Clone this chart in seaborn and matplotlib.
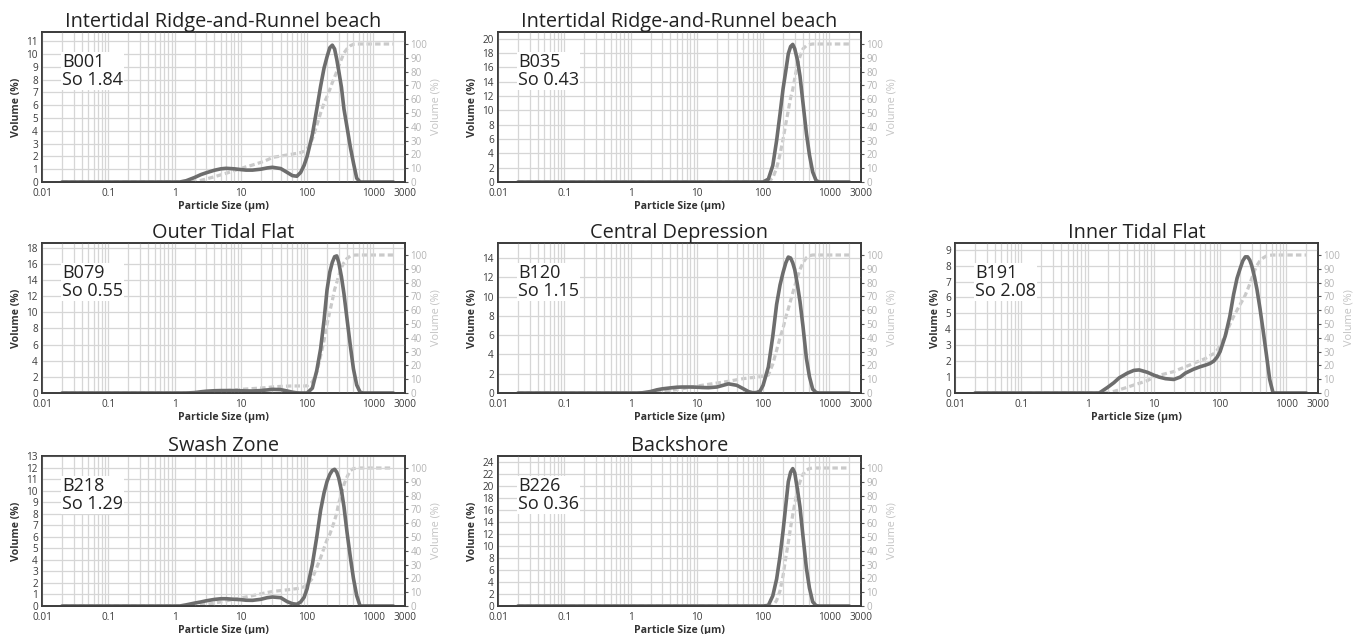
import matplotlib
matplotlib.use("Agg")
import matplotlib.pyplot as plt
from matplotlib.ticker import LogLocator, FixedLocator, NullFormatter, MultipleLocator
import seaborn as sns
import numpy as np

# ---------------- data ----------------
sizes = [0.02, 1, 1.2, 1.5, 2, 2.5, 3, 4, 5, 6, 8, 10, 12, 15, 20, 25, 30, 40, 50, 60,
         70, 80, 90, 100, 120, 140, 160, 180, 200, 220, 240, 260, 280, 300, 330, 360,
         400, 450, 500, 560, 630, 700, 800, 1000, 2000]

b001_vol = [0, 0, 0, 0.1, 0.35, 0.58, 0.72, 0.92, 1.03, 1.07, 1.03, 0.97, 0.93, 0.93, 1.0, 1.1, 1.15, 1.05, 0.75, 0.5,
            0.45, 0.75, 1.3, 2.0, 3.7, 5.7, 7.5, 8.9, 9.8, 10.5, 10.7, 10.4, 9.6, 8.7, 7.4, 5.7,
            4.3, 2.7, 1.5, 0.3, 0, 0, 0, 0, 0]
b001_cum = [0, 0, 0, 0, 0.3, 1.2, 2.2, 3.8, 5.2, 6.3, 8.3, 9.8, 11, 12.3, 14.2, 16, 17.8, 18.8, 19.6, 20.2,
            20.8, 21.3, 22.3, 24, 31, 41, 50, 57, 62, 67, 72, 76, 80, 84, 89, 93.5,
            96.5, 98.8, 99.8, 100, 100, 100, 100, 100, 100]

b035_vol = [0, 0, 0, 0, 0, 0, 0, 0, 0, 0, 0, 0, 0, 0, 0, 0, 0, 0, 0, 0,
            0, 0, 0, 0, 0.4, 2.3, 5.8, 9.5, 13.0, 15.5, 17.9, 18.9, 19.2, 18.6, 17.0, 14.8,
            11.0, 6.8, 3.8, 1.4, 0.2, 0, 0, 0, 0]
b035_cum = [0, 0, 0, 0, 0, 0, 0, 0, 0, 0, 0, 0, 0, 0, 0, 0, 0, 0, 0, 0,
            0, 0, 0, 0, 0, 3, 10, 20, 31, 42, 52, 61, 67, 75, 85, 91,
            96.5, 98.8, 99.6, 100, 100, 100, 100, 100, 100]

b079_vol = [0, 0, 0, 0, 0.05, 0.15, 0.22, 0.28, 0.3, 0.3, 0.3, 0.28, 0.26, 0.25, 0.3, 0.38, 0.45, 0.42, 0.25, 0.1,
            0.02, 0, 0, 0, 0.6, 2.8, 5.5, 9.0, 12.8, 15.0, 16.2, 16.9, 17.0, 16.2, 14.4, 12.3,
            9.2, 5.8, 3.0, 1.0, 0.1, 0, 0, 0, 0]
b079_cum = [0, 0, 0, 0, 0.1, 0.4, 0.7, 1.1, 1.5, 1.8, 2.2, 2.6, 2.9, 3.2, 3.6, 4.0, 4.4, 4.8, 5.0, 5.1,
            5.1, 5.1, 5.1, 5.2, 8, 15, 27, 38, 50, 59, 67, 75, 80, 85, 91, 94.5,
            97.5, 99.3, 99.9, 100, 100, 100, 100, 100, 100]

b120_vol = [0, 0, 0, 0.02, 0.15, 0.33, 0.43, 0.53, 0.6, 0.62, 0.62, 0.6, 0.57, 0.55, 0.62, 0.8, 0.95, 0.8, 0.45, 0.15,
            0.02, 0.05, 0.2, 0.8, 2.7, 5.9, 9.2, 11.2, 12.5, 13.5, 14.1, 14.0, 13.5, 12.8, 11.2, 9.5,
            6.9, 3.6, 1.7, 0.4, 0.05, 0, 0, 0, 0]
b120_cum = [0, 0, 0, 0, 0.2, 0.6, 1.0, 1.8, 2.5, 3.1, 4.2, 5.0, 5.6, 6.3, 7.2, 7.9, 8.5, 9.6, 10.4, 10.9,
            11.2, 11.5, 11.8, 12.1, 13, 21, 31, 40, 47, 55, 61, 67, 72.5, 77.5, 84, 89.5,
            94.5, 98, 99.5, 100, 100, 100, 100, 100, 100]

b191_vol = [0, 0, 0, 0, 0.35, 0.65, 0.95, 1.25, 1.42, 1.45, 1.3, 1.12, 1.0, 0.9, 0.85, 1.0, 1.25, 1.5, 1.65, 1.75,
            1.85, 2.0, 2.25, 2.6, 3.6, 4.8, 6.2, 7.2, 7.8, 8.3, 8.55, 8.55, 8.35, 8.0, 7.3, 6.5,
            5.3, 3.8, 2.4, 0.85, 0, 0, 0, 0, 0]
b191_cum = [0, 0, 0, 0, 0.2, 1.2, 2.3, 4.2, 5.8, 7.0, 9.0, 11.5, 12.8, 14, 15.5, 17.5, 19, 21.5, 23.5, 25,
            27, 28.5, 31, 34, 42, 49.5, 55.5, 60, 64, 67.5, 71, 75, 79, 83, 88.5, 92.5,
            95.8, 98, 99.3, 99.8, 100, 100, 100, 100, 100]

b218_vol = [0, 0, 0, 0.1, 0.25, 0.35, 0.45, 0.57, 0.63, 0.63, 0.58, 0.55, 0.5, 0.49, 0.58, 0.72, 0.78, 0.72, 0.38, 0.2,
            0.15, 0.35, 0.75, 1.5, 3.6, 6.0, 8.3, 9.8, 10.8, 11.4, 11.75, 11.85, 11.6, 11.1, 10.0, 8.6,
            6.4, 4.2, 2.4, 0.9, 0, 0, 0, 0, 0]
b218_cum = [0, 0, 0, 0, 0.1, 0.6, 1.1, 2.1, 3.0, 3.7, 4.9, 5.8, 6.6, 7.5, 8.8, 9.8, 10.5, 11.2, 11.7, 12.2,
            12.6, 13, 14, 15.5, 20, 28, 35, 42, 48, 52, 57, 62, 67.5, 74.5, 81, 88,
            93.5, 98.3, 99.5, 99.9, 100, 100, 100, 100, 100]

b226_vol = [0, 0, 0, 0, 0, 0, 0, 0, 0, 0, 0, 0, 0, 0, 0, 0, 0, 0, 0, 0,
            0, 0, 0, 0, 0.1, 1.7, 4.5, 8.3, 12.5, 16.8, 20.7, 22.3, 22.9, 22.2, 19.4, 16.5,
            11.6, 6.3, 3.0, 0.7, 0.05, 0, 0, 0, 0]
b226_cum = [0, 0, 0, 0, 0, 0, 0, 0, 0, 0, 0, 0, 0, 0, 0, 0, 0, 0, 0, 0,
            0, 0, 0, 0, 0, 0, 4, 11, 22, 35, 46, 57, 66, 74, 84, 90,
            95.5, 98.5, 99.6, 100, 100, 100, 100, 100, 100]

titles = ["Intertidal Ridge-and-Runnel beach", "Intertidal Ridge-and-Runnel beach",
          "Outer Tidal Flat", "Central Depression", "Inner Tidal Flat",
          "Swash Zone", "Backshore"]
samples = ["B001", "B035", "B079", "B120", "B191", "B218", "B226"]
sorting = ["1.84", "0.43", "0.55", "1.15", "2.08", "1.29", "0.36"]
vols = [b001_vol, b035_vol, b079_vol, b120_vol, b191_vol, b218_vol, b226_vol]
cums = [b001_cum, b035_cum, b079_cum, b120_cum, b191_cum, b218_cum, b226_cum]
y_max = [11.73, 20.93, 18.6, 15.56, 9.42, 13.0, 25.0]
y_step = [1, 2, 2, 2, 1, 1, 2]
x_ticks = [0.01, 0.1, 1, 10, 100, 1000, 3000]
x_ticklabels = ["0.01", "0.1", "1", "10", "100", "1000", "3000"]
cum_ticks = list(range(0, 101, 10))

# ---------------- layout ----------------
W, H = 1355, 634
col_left = [42, 498, 955]
row_bottom = [182, 393, 606]
ax_w, ax_h = 363, 150
grid_pos = [(0, 0), (0, 1), (1, 0), (1, 1), (1, 2), (2, 0), (2, 1)]

sns.set_style("white")
plt.rcParams["font.family"] = ["Open Sans", "DejaVu Sans"]

fig = plt.figure(figsize=(W / 100, H / 100), dpi=100)

DARK = "#6d6d6d"
LIGHT = "#cacaca"
GRID = "#d6d6d6"
SPINE = "#3a3a3a"

for i, (r, c) in enumerate(grid_pos):
    rect = [col_left[c] / W, 1 - row_bottom[r] / H, ax_w / W, ax_h / H]
    ax = fig.add_axes(rect)
    ax.set_xscale("log")
    ax2 = ax.twinx()
    ax.set_zorder(ax2.get_zorder() + 1)
    ax.patch.set_visible(False)
    ax2.patch.set_facecolor("white")

    # cumulative (right axis)
    sns.lineplot(x=sizes, y=cums[i], ax=ax2, color=LIGHT, linewidth=2.3,
                 linestyle=(0, (1.7, 1.0)), sort=False, errorbar=None)
    # volume density (left axis)
    sns.lineplot(x=sizes, y=vols[i], ax=ax, color=DARK, linewidth=2.6,
                 sort=False, errorbar=None)
    ax.set_xlim(0.01, 3000)
    for line in ax.get_lines() + ax2.get_lines():
        line.set_solid_capstyle("round")

    ax.set_ylim(0, y_max[i])
    ax2.set_ylim(0, 108.7)
    ax.yaxis.set_major_locator(MultipleLocator(y_step[i]))
    ax2.yaxis.set_major_locator(FixedLocator(cum_ticks))

    ax.xaxis.set_major_locator(FixedLocator(x_ticks))
    ax.xaxis.set_ticklabels(x_ticklabels)
    ax.xaxis.set_minor_locator(LogLocator(base=10, subs=np.arange(2, 10), numticks=20))
    ax.xaxis.set_minor_formatter(NullFormatter())

    ax.grid(True, which="both", axis="x", color=GRID, linewidth=0.9)
    ax.grid(True, which="major", axis="y", color=GRID, linewidth=0.9)
    ax.set_axisbelow(True)

    ax.tick_params(axis="y", which="both", length=0, labelsize=7.2,
                   labelcolor="#3c3c3c", pad=3)
    ax.tick_params(axis="x", which="both", length=0, labelsize=7.2,
                   labelcolor="#3c3c3c", pad=4)
    ax2.tick_params(axis="y", length=2.5, width=0.8, color="#555555",
                    labelsize=7.0, labelcolor="#b4b4b4", pad=1.5)

    for a in (ax, ax2):
        for s in a.spines.values():
            s.set_color(SPINE)
            s.set_linewidth(1.2)

    ax.set_xlabel("Particle Size (\u03bcm)", fontsize=7.6, fontweight="bold",
                  color="#333333", labelpad=1.5)
    ax.set_ylabel("Volume (%)", fontsize=7.6, fontweight="bold",
                  color="#333333", labelpad=3)
    ax2.set_ylabel("Volume (%)", fontsize=7.8, color="#c4c4c4", labelpad=2)
    ax.set_title(titles[i], fontsize=14.3, color="#222222", pad=3)

    ax.text(0.055, 0.86, f"{samples[i]}\nSo {sorting[i]}", transform=ax.transAxes,
            ha="left", va="top", fontsize=13, color="#222222", linespacing=1.0,
            bbox=dict(facecolor="white", edgecolor="none", pad=0.6))

fig.savefig("out.png", dpi=100)
